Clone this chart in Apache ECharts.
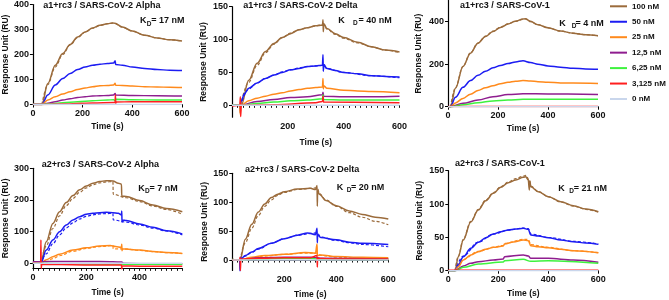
<!DOCTYPE html>
<html>
<head>
<meta charset="utf-8">
<title>SPR sensorgrams</title>
<script src="https://cdn.jsdelivr.net/npm/echarts@6/dist/echarts.min.js"></script>
<style>
html, body { margin: 0; padding: 0; background: #fff; }
#chart { width: 669px; height: 300px; }
</style>
</head>
<body>
<div id="chart"></div>
<script>
// legend / concentrations
const concentrations = ["100 nM", "50 nM", "25 nM", "12,5 nM", "6,25 nM", "3,125 nM", "0 nM"];
const panelTitles = [
  "a1+rc3 / SARS-CoV-2 Alpha", "a1+rc3 / SARS-CoV-2 Delta", "a1+rc3 / SARS-CoV-1",
  "a2+rc3 / SARS-CoV-2 Alpha", "a2+rc3 / SARS-CoV-2 Delta", "a2+rc3 / SARS-CoV-1"
];
const kdValues = ["= 17 nM", "= 40 nM", "= 4 nM", "= 7 nM", "= 20 nM", "= 21 nM"];

// tick labels per panel
const xTicks = [[0, 200, 400, 600], [200, 400, 600], [0, 200, 400, 600], [0, 200, 400], [200, 400, 600], [0, 200, 400, 600]];
const yTicks = [[0, 100, 200, 300, 400], [0, 50, 100, 150], [0, 200, 400], [0, 100, 200, 300], [0, 50, 100, 150], [0, 50, 100, 150]];

// sensorgrams [time s, RU], order = concentrations
const a1Alpha = [
  [[0,0],[36,0],[60,84],[90,157],[120,204],[150,240],[180,270],[210,290],[240,306],[270,317],[300,323],[320,326],[330,325],[360,310],[400,294],[450,277],[500,266],[550,259],[600,254]],
  [[0,0],[36,0],[60,38],[90,78],[120,104],[150,124],[180,140],[210,150],[240,157],[270,161],[300,164],[325,166],[331,175],[333,160],[360,157],[400,150],[450,144],[500,140],[550,137],[600,136]],
  [[0,0],[36,0],[60,18],[90,31],[120,42],[150,51],[180,60],[210,66],[240,71],[270,75],[300,76],[325,78],[331,85],[333,77],[360,76],[400,74],[450,71],[500,70],[550,69],[600,68]],
  [[0,0],[36,0],[60,5],[90,11],[120,18],[150,23],[180,28],[210,31],[240,34],[270,35],[300,36],[325,38],[331,44],[333,38],[400,36],[500,35],[600,34]],
  [[0,0],[36,0],[60,2],[120,7],[180,11],[240,15],[300,18],[325,19],[331,15],[334,21],[400,19],[500,18],[600,18]],
  [[0,0],[36,0],[120,2],[240,6],[325,8],[331,8],[332,38],[333,5],[336,10],[400,11],[600,11]],
  [[0,0],[600,0]]
];
const a1Delta = [
  [[0,0],[28,0],[30,-12],[31,8],[33,0],[60,38],[90,64],[120,82],[150,94],[180,103],[210,109],[240,115],[270,118],[300,121],[324,122],[326,130],[327,112],[329,124],[340,117],[370,109],[400,103],[450,96],[500,89],[550,84],[600,81]],
  [[0,0],[28,0],[30,-5],[32,5],[45,18],[60,26],[90,34],[120,41],[150,46],[180,50],[210,54],[240,56],[270,59],[300,60],[324,61],[326,77],[327,52],[329,62],[340,56],[370,53],[400,50],[450,48],[500,45],[550,44],[600,43]],
  [[0,0],[28,0],[30,-14],[31,6],[33,0],[60,7],[90,11],[120,14],[150,17],[180,19],[210,22],[240,24],[270,26],[300,27],[324,28],[326,41],[327,25],[329,30],[340,26],[400,23],[450,22],[500,21],[600,19]],
  [[0,0],[30,0],[90,6],[150,9],[210,12],[270,13],[324,16],[326,20],[328,14],[400,13],[500,13],[600,14]],
  [[0,0],[30,0],[90,3],[150,5],[210,7],[270,8],[324,10],[326,16],[328,9],[400,8],[600,8]],
  [[0,-1],[28,0],[30,13],[31,-17],[33,0],[150,1],[300,4],[324,6],[326,14],[328,5],[600,4]],
  [[0,0],[600,0]]
];
const a1Cov1 = [
  [[0,0],[10,0],[30,87],[60,189],[90,252],[120,299],[150,331],[180,354],[210,373],[240,389],[270,402],[300,413],[310,414],[330,402],[360,386],[400,372],[450,356],[500,346],[550,339],[600,334]],
  [[0,0],[10,0],[30,44],[60,91],[90,123],[120,148],[150,167],[180,183],[210,194],[240,203],[270,211],[300,216],[330,208],[360,200],[400,192],[450,186],[500,181],[550,178],[600,176]],
  [[0,0],[10,0],[30,18],[60,39],[90,59],[120,76],[150,89],[180,99],[210,108],[240,115],[270,120],[300,123],[330,121],[360,118],[400,115],[450,112],[500,111],[600,109]],
  [[0,0],[10,0],[60,16],[120,31],[180,47],[240,57],[300,61],[400,60],[600,58]],
  [[0,0],[10,0],[60,9],[120,19],[180,27],[240,31],[300,35],[600,35]],
  [[0,1],[600,1]],
  [[0,0],[600,0]]
];
const a2Alpha = [
  [[0,3],[28,2],[30,0],[50,68],[75,126],[100,163],[125,192],[150,214],[175,232],[200,244],[225,253],[250,258],[275,261],[300,260],[320,253],[332,250],[333,212],[350,211],[400,198],[450,184],[500,173],[560,163]],
  [[0,3],[28,3],[30,0],[50,42],[75,74],[100,100],[125,121],[150,137],[175,147],[200,155],[225,158],[250,160],[275,161],[300,160],[320,158],[332,153],[333,165],[334,130],[336,137],[350,135],[400,124],[450,114],[500,103],[560,93]],
  [[0,2],[28,2],[30,0],[50,11],[75,21],[100,29],[150,42],[200,49],[250,55],[290,56],[310,53],[332,50],[333,60],[334,40],[336,46],[400,42],[450,37],[500,34],[560,31]],
  [[0,5],[30,5],[100,6],[200,6],[300,5],[333,4],[340,0],[400,-1],[560,-1]],
  [[0,0],[30,0],[100,-1],[200,-2],[300,-2],[340,-3],[560,-3]],
  [[0,1],[29,0],[30,74],[31,-16],[33,-3],[100,-4],[200,-5],[300,-5],[332,-5],[333,-22],[334,-8],[400,-9],[560,-9]],
  [[0,0],[560,0]]
];
const a2Delta = [
  [[0,0],[30,0],[50,36],[75,62],[100,83],[125,97],[150,108],[175,114],[200,118],[250,123],[300,124],[320,122],[326,129],[327,93],[328,120],[335,114],[360,103],[400,94],[450,85],[500,79],[550,74],[600,71]],
  [[0,0],[28,0],[30,-20],[31,5],[33,2],[50,8],[75,14],[100,20],[150,29],[200,37],[250,43],[290,47],[320,44],[326,55],[327,30],[328,44],[340,39],[400,35],[450,31],[500,29],[600,27]],
  [[0,1],[30,0],[75,5],[125,8],[200,10],[280,13],[320,12],[326,28],[327,8],[340,9],[400,6],[500,5],[600,4]],
  [[0,1],[30,0],[100,4],[200,5],[300,5],[327,4],[340,3],[600,2]],
  [[0,1],[30,0],[100,2],[200,3],[300,3],[340,1],[600,1]],
  [[0,0],[29,0],[30,5],[31,-18],[33,2],[100,3],[200,4],[300,4],[326,8],[327,-12],[328,3],[400,2],[600,2]],
  [[0,0],[600,0]]
];
const a2Cov1 = [
  [[0,0],[27,0],[40,21],[60,46],[90,73],[120,91],[150,105],[180,116],[210,125],[240,132],[270,136],[300,140],[310,141],[320,136],[324,121],[326,135],[330,126],[360,118.5],[400,111],[450,103.5],[500,97.5],[550,92.5],[600,88.5]],
  [[0,0],[27,0],[40,8.5],[60,21],[90,33.5],[120,42.5],[150,49.5],[180,55],[210,58.5],[240,61],[270,62.5],[300,63.5],[320,62],[330,53.5],[360,52],[400,49.5],[450,46],[500,43.5],[550,41.5],[600,39.5]],
  [[0,0],[27,0],[40,6],[60,16],[90,23.5],[120,28.5],[150,32],[180,35],[220,37],[225,40],[260,43],[300,46],[320,45],[330,37.5],[360,36],[400,34.5],[450,32],[500,30],[600,27]],
  [[0,0],[27,0],[60,7],[90,11],[120,13.5],[180,16],[220,17.5],[225,21],[300,23.5],[320,22],[330,18.5],[400,18.5],[500,16],[600,12.5]],
  [[0,0],[27,0],[60,5],[120,10],[220,13],[225,15],[300,17],[330,14],[400,15],[600,11]],
  [[0,0.5],[600,0.5]],
  [[0,0],[600,0]]
];

// fitted curves (dashed), order = concentrations
const a1AlphaFit = [
  [[36,0],[60,80],[90,150],[120,200],[150,238],[180,268],[210,289],[240,305],[270,316],[300,323],[325,326],[360,309],[400,293],[450,277],[500,266],[550,259],[600,254]]
];
const a1DeltaFit = [
  [[30,0],[60,35],[90,61],[120,80],[150,93],[180,103],[210,110],[240,115],[270,118],[300,121],[327,123],[340,116],[370,108],[400,102],[450,95],[500,89],[550,84],[600,80]],
  [[30,0],[60,25],[90,34],[120,41],[150,46],[180,51],[210,54],[240,57],[270,59],[300,60],[327,61],[340,56],[400,50],[500,45],[600,42]]
];
const a1Cov1Fit = [
  [[10,0],[30,90],[60,190],[90,254],[120,300],[150,332],[180,356],[210,375],[240,390],[270,402],[300,411],[310,413],[330,400],[360,386],[400,371],[450,356],[500,346],[550,339],[600,334]]
];
const a2AlphaFit = [
  [[30,0],[50,55],[75,110],[100,150],[125,182],[150,205],[175,224],[200,238],[225,248],[250,254],[275,257],[300,258],[301,218],[350,207],[400,195],[450,181],[500,170],[560,155]],
  [[30,0],[50,30],[75,62],[100,90],[125,112],[150,128],[175,140],[200,148],[225,153],[250,156],[275,157],[300,158],[301,137],[350,130],[400,121],[450,111],[500,102],[560,90]],
  [[30,0],[50,5],[75,15],[100,24],[150,38],[200,47],[250,53],[300,56],[301,46],[350,45],[400,41],[450,37],[500,34],[560,31]]
];
const a2DeltaFit = [
  [[30,0],[50,30],[75,55],[100,77],[125,93],[150,104],[175,112],[200,117],[250,122],[300,124],[327,125],[335,115],[360,104],[400,93],[450,82],[500,74],[550,67],[600,61]],
  [[30,0],[50,7],[75,13],[100,19],[150,29],[200,37],[250,43],[300,46],[327,47],[340,40],[400,34],[450,30],[500,27],[600,23]],
  [[30,0],[75,4],[125,7],[200,10],[280,12],[327,12],[340,8],[400,5],[500,3],[600,2]]
];
const a2Cov1Fit = [
  [[27,0],[40,22],[60,47],[90,74],[120,92],[150,106],[180,117],[210,126],[240,133],[270,138],[300,142],[310,143],[325,135],[330,127],[360,119],[400,111],[450,103],[500,97],[550,92],[600,88]],
  [[27,0],[60,22],[120,43],[180,55],[240,61],[300,64],[320,63],[330,55],[400,50],[500,44],[600,40]],
  [[27,0],[60,17],[120,29],[180,35],[220,38],[225,41],[300,47],[320,47],[330,39],[400,35],[500,30],[600,27]]
];

const panelData = [a1Alpha, a1Delta, a1Cov1, a2Alpha, a2Delta, a2Cov1];
const panelFits = [a1AlphaFit, a1DeltaFit, a1Cov1Fit, a2AlphaFit, a2DeltaFit, a2Cov1Fit];

// styling
const colors = ["#9b6b3b", "#1c1cf2", "#ff8a1c", "#8f1d8f", "#3ef23e", "#ff1f1f", "#c9d6ec"];
const FONT = '"Liberation Sans", Arial, sans-serif';
const grids = [
  { left: 31, top: 4, width: 151, height: 100.5 },
  { left: 232, top: 6.7, width: 167.5, height: 110.5 },
  { left: 448, top: 0.5, width: 150, height: 106.2 },
  { left: 31.7, top: 168.3, width: 150.6, height: 100.1 },
  { left: 232.3, top: 173.3, width: 156, height: 108.3 },
  { left: 448.3, top: 170.7, width: 150, height: 100 }
];
const xRange = [[0, 600], [0, 600], [0, 600], [0, 560], [0, 600], [0, 600]];
const yRange = [[0, 400], [-18, 150], [0, 500], [-16, 300], [-18, 150], [0, 150]];
const minorX = [false, true, false, true, true, false];
const xNameGap = [18, 21, 17, 19.5, 19.5, 18.5];
const yNameGap = [21.5, 24, 25, 22, 23, 24.5];
const titlePos = [[43.3, 1], [243.3, 1.5], [460, 1.5], [41.7, 160.5], [245, 165.5], [455, 159]];
const kdPos = [ // K x, subscript x, rest x, y
  [140, 146.7, 151.3, 21], [338.3, 353, 358.5, 20.7], [559.3, 571.7, 575.5, 23.3],
  [138.3, 145, 149.5, 188.3], [336.7, 346.7, 351, 187.7], [558.3, 569.3, 573.8, 188.3]
];

const axisLabelStyle = { color: "#111", fontFamily: FONT, fontWeight: "bold", fontSize: 9 };
const nameStyle = { color: "#111", fontFamily: FONT, fontWeight: "bold", fontSize: 8.5 };

const xAxis = grids.map((g, i) => ({
  type: "value",
  gridIndex: i,
  min: xRange[i][0],
  max: xRange[i][1],
  interval: minorX[i] ? 20 : 200,
  name: "Time (s)",
  nameLocation: "middle",
  nameGap: xNameGap[i],
  nameTextStyle: nameStyle,
  splitLine: { show: false },
  axisLine: { onZero: i !== 3, lineStyle: { color: "#000", width: 1.2 } },
  axisTick: minorX[i]
    ? { length: 2.5, lineStyle: { color: "#000", width: 0.9 } }
    : { length: 3, customValues: xTicks[i], lineStyle: { color: "#000", width: 1 } },
  axisLabel: Object.assign({ margin: 4.5, customValues: xTicks[i] }, axisLabelStyle)
}));

const yAxis = grids.map((g, i) => ({
  type: "value",
  gridIndex: i,
  min: yRange[i][0],
  max: yRange[i][1],
  name: "Response Unit (RU)",
  nameLocation: "middle",
  nameGap: yNameGap[i],
  nameTextStyle: nameStyle,
  splitLine: { show: false },
  axisLine: { show: true, onZero: false, lineStyle: { color: "#000", width: 1.2 } },
  axisTick: { show: true, length: 3, customValues: yTicks[i], lineStyle: { color: "#000", width: 1 } },
  axisLabel: Object.assign({ margin: 4, customValues: yTicks[i] }, axisLabelStyle)
}));

const series = [];
panelData.forEach((traces, p) => {
  // 0 nM first so it sits underneath
  const order = [6, 0, 1, 2, 3, 4, 5];
  order.forEach(c => {
    series.push({
      name: concentrations[c],
      type: "line",
      xAxisIndex: p,
      yAxisIndex: p,
      data: traces[c],
      showSymbol: false,
      smooth: 0.35,
      smoothMonotone: "x",
      color: colors[c],
      lineStyle: { width: 1.5, color: colors[c] },
      z: 2 + c / 10
    });
  });
  panelFits[p].forEach((fit, c) => {
    series.push({
      name: concentrations[c] + " fit",
      type: "line",
      xAxisIndex: p,
      yAxisIndex: p,
      data: fit,
      showSymbol: false,
      smooth: 0.35,
      smoothMonotone: "x",
      color: colors[c],
      lineStyle: { width: 1.2, color: colors[c], type: [3, 2] },
      z: 2
    });
  });
});

const textStyleKD = size => ({ fill: "#111", font: "bold " + size + "px " + FONT, verticalAlign: "middle" });
const graphic = kdValues.map((txt, i) => {
  const k = kdPos[i];
  return {
    type: "group",
    children: [
      { type: "text", x: k[0], y: k[3], style: Object.assign({ text: "K" }, textStyleKD(9)) },
      { type: "text", x: k[1], y: k[3] + 3, style: Object.assign({ text: "D" }, textStyleKD(6.5)) },
      { type: "text", x: k[2], y: k[3], style: Object.assign({ text: txt }, textStyleKD(9)) }
    ]
  };
});

const chart = echarts.init(document.getElementById("chart"), null, { renderer: "canvas" });
chart.setOption({
  animation: false,
  backgroundColor: "#fff",
  title: panelTitles.map((t, i) => ({
    text: t,
    left: titlePos[i][0],
    top: titlePos[i][1],
    padding: 0,
    textStyle: { color: "#111", fontFamily: FONT, fontWeight: "bold", fontSize: 9 }
  })),
  legend: {
    data: concentrations,
    orient: "vertical",
    left: 610,
    top: 1.3,
    padding: 0,
    icon: "rect",
    itemWidth: 17,
    itemHeight: 2,
    itemGap: 5.45,
    textStyle: { color: "#111", fontFamily: FONT, fontWeight: "bold", fontSize: 8, lineHeight: 10 }
  },
  grid: grids,
  xAxis: xAxis,
  yAxis: yAxis,
  series: series,
  graphic: graphic
});
</script>
</body>
</html>
